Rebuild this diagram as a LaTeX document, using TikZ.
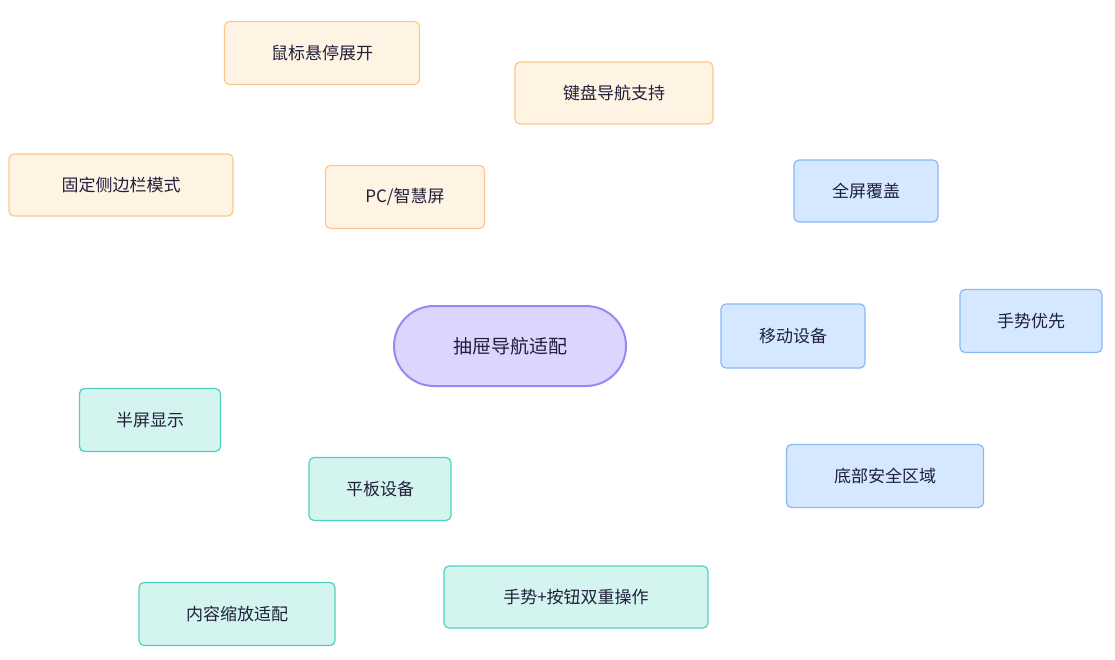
\documentclass[tikz,border=0pt]{standalone}
\usepackage{fontspec}
\setmainfont{Noto Sans CJK SC}
\usetikzlibrary{backgrounds}
\definecolor{txt}{HTML}{1F1F3A}
\definecolor{of}{HTML}{FFF3E3}\definecolor{ob}{HTML}{F9C88A}\definecolor{oe}{HTML}{FFF0DC}
\definecolor{bf}{HTML}{D5E8FF}\definecolor{bb}{HTML}{8AB8F5}\definecolor{be}{HTML}{D5E8FF}
\definecolor{tf}{HTML}{D4F5EF}\definecolor{tb}{HTML}{4FD1BF}\definecolor{te}{HTML}{D4F5EF}
\definecolor{rf}{HTML}{DCD6FF}\definecolor{rb}{HTML}{9A87F0}
\begin{document}
\begin{tikzpicture}[x=1pt,y=-1pt,
  box/.style={draw,line width=1.2pt,rounded corners=5pt,inner sep=0pt,font=\fontsize{17}{17}\selectfont,text=txt},
  o/.style={box,fill=of,draw=ob},
  b/.style={box,fill=bf,draw=bb},
  t/.style={box,fill=tf,draw=tb},
  e/.style={line width=14pt},
]
\useasboundingbox[fill=white] (0,0) rectangle (1115,660);
\node[box,fill=rf,draw=rb,line width=2pt,rounded corners=40pt,minimum width=232pt,minimum height=80pt,font=\fontsize{19}{19}\selectfont] (root) at (510,346) {抽屉导航适配};
\node[o,minimum width=159pt,minimum height=63pt] (pc) at (405,197) {PC/智慧屏};
\node[o,minimum width=195pt,minimum height=63pt] (pc1) at (322,53) {鼠标悬停展开};
\node[o,minimum width=198pt,minimum height=62pt] (pc2) at (614,93) {键盘导航支持};
\node[o,minimum width=224pt,minimum height=62pt] (pc3) at (121,185) {固定侧边栏模式};
\node[b,minimum width=144pt,minimum height=64pt] (mo) at (793,336) {移动设备};
\node[b,minimum width=144pt,minimum height=62pt] (mo1) at (866,191) {全屏覆盖};
\node[b,minimum width=142pt,minimum height=63pt] (mo2) at (1031,321) {手势优先};
\node[b,minimum width=197pt,minimum height=63pt] (mo3) at (885,476) {底部安全区域};
\node[t,minimum width=142pt,minimum height=63pt] (ta) at (380,489) {平板设备};
\node[t,minimum width=141pt,minimum height=63pt] (ta1) at (150,420) {半屏显示};
\node[t,minimum width=196pt,minimum height=63pt] (ta2) at (237,614) {内容缩放适配};
\node[t,minimum width=264pt,minimum height=62pt] (ta3) at (576,597) {手势+按钮双重操作};
\begin{scope}[on background layer]
\draw[e,oe] (root.center) -- (pc.center) (pc.center) -- (pc1.center) (pc.center) -- (pc2.center) (pc.center) -- (pc3.center);
\draw[e,be] (root.center) -- (mo.center) (mo.center) -- (mo1.center) (mo.center) -- (mo2.center) (mo.center) -- (mo3.center);
\draw[e,te] (root.center) -- (ta.center) (ta.center) -- (ta1.center) (ta.center) -- (ta2.center) (ta.center) -- (ta3.center);
\end{scope}
\end{tikzpicture}
\end{document}
